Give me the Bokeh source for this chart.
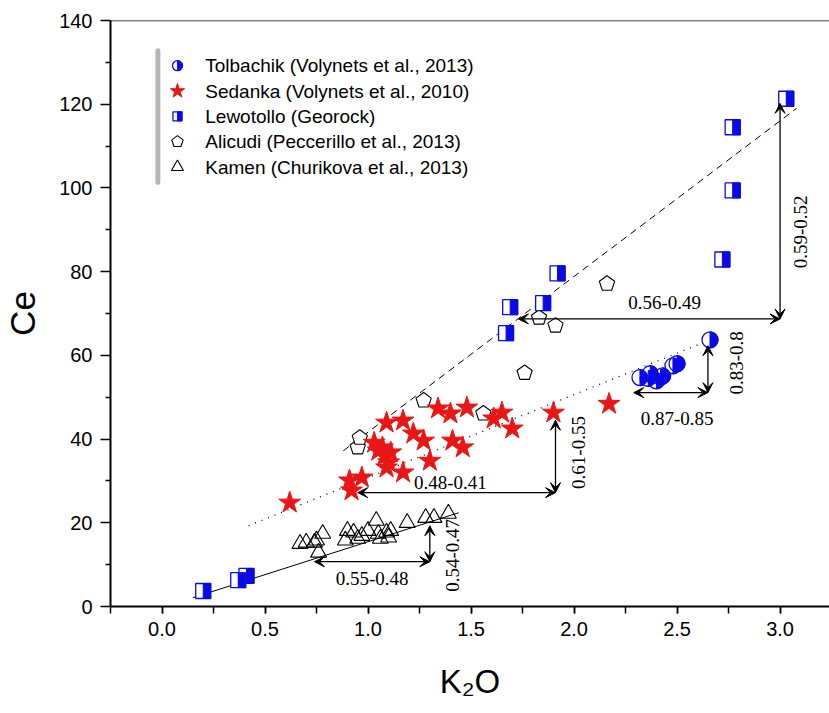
import math
import numpy as np
from bokeh.plotting import figure
from bokeh.models import (ColumnDataSource, Arrow, VeeHead, Span, BoxAnnotation,
                          FixedTicker, CustomJSTickFormatter)
from bokeh.transform import dodge
from bokeh.core.properties import value
from bokeh.embed import file_html
from bokeh.resources import INLINE

# ---------------- data ----------------
tol_k2o = [2.32, 2.36, 2.37, 2.40, 2.42, 2.43, 2.48, 2.50, 2.66]
tol_ce = [54.7, 54.5, 55.6, 53.9, 54.8, 55.1, 57.5, 58.0, 63.7]

sed_k2o = [0.62, 0.91, 0.92, 0.97, 1.03, 1.05, 1.07, 1.08, 1.10, 1.11, 1.09, 1.09,
           1.17, 1.22, 1.27, 1.17, 1.30, 1.34, 1.40, 1.48, 1.41, 1.46, 1.61, 1.65,
           1.70, 1.90, 2.17]
sed_ce = [24.8, 30.1, 27.7, 30.8, 39.1, 37.2, 38.0, 36.0, 34.4, 36.8, 33.2, 43.9,
          44.4, 41.3, 39.6, 32.0, 34.8, 47.3, 46.1, 47.5, 39.6, 38.0, 44.9, 46.3,
          42.5, 46.3, 48.4]

lew_k2o = [0.20, 0.37, 0.41, 1.67, 1.69, 1.85, 1.92, 2.72, 2.77, 2.77, 3.03]
lew_ce = [3.7, 6.3, 7.3, 65.3, 71.5, 72.5, 79.6, 82.9, 99.4, 114.5, 121.3]

ali_k2o = [0.95, 0.96, 1.27, 1.56, 1.76, 1.83, 1.91, 2.16]
ali_ce = [38.0, 40.3, 49.2, 46.1, 55.8, 69.0, 67.1, 77.1]

kam_k2o = [0.67, 0.70, 0.74, 0.75, 0.76, 0.78, 0.89, 0.90, 0.93, 0.95, 0.97, 1.00,
           1.04, 1.05, 1.06, 1.09, 1.10, 1.11, 1.19, 1.28, 1.32, 1.39]
kam_ce = [15.0, 15.3, 15.3, 15.8, 12.9, 17.4, 15.8, 18.1, 17.7, 16.2, 16.9, 18.1,
          20.5, 17.4, 16.2, 17.7, 16.5, 18.1, 20.0, 21.2, 21.2, 22.2]

# trend lines
dash_k2o = [0.88, 3.08]
dash_ce = [37.2, 119.0]
dot_k2o = [0.42, 2.65]
dot_ce = [19.3, 63.5]
solid_k2o = [0.15, 1.44]
solid_ce = [2.1, 22.4]

# ratio brackets (double-headed arrows)
arr_x0 = [0.74, 1.30, 0.95, 1.91, 2.29, 2.65, 1.73, 3.00]
arr_y0 = [10.7, 10.7, 27.2, 27.2, 51.1, 51.1, 68.7, 68.7]
arr_x1 = [1.30, 1.30, 1.91, 1.91, 2.65, 2.65, 3.00, 3.00]
arr_y1 = [10.7, 19.3, 27.2, 44.5, 51.1, 62.3, 68.7, 120.2]

ratio_text = ["0.55-0.48", "0.54-0.47", "0.48-0.41", "0.61-0.55",
              "0.87-0.85", "0.83-0.8", "0.56-0.49", "0.59-0.52"]
ratio_x = [1.02, 1.41, 1.40, 2.02, 2.50, 2.79, 2.44, 3.10]
ratio_y = [6.7, 12.2, 29.6, 36.8, 44.9, 58.2, 72.6, 89.5]
ratio_rot = [0, 1, 0, 1, 0, 1, 0, 1]

legend_labels = ["Tolbachik (Volynets et al., 2013)",
                 "Sedanka (Volynets et al., 2010)",
                 "Lewotollo (Georock)",
                 "Alicudi (Peccerillo et al., 2013)",
                 "Kamen (Churikova et al., 2013)"]

x_ticks = [0.0, 0.5, 1.0, 1.5, 2.0, 2.5, 3.0]
y_ticks = [0, 20, 40, 60, 80, 100, 120, 140]

BLUE = "#0a0ae6"
RED = "#ea1616"

p = figure(width=829, height=713, x_range=(-0.25, 3.24), y_range=(0, 140),
           output_backend="svg", toolbar_location=None,
           min_border_left=110, min_border_right=0, min_border_top=20,
           min_border_bottom=107)
p.outline_line_color = None
p.xgrid.grid_line_color = None
p.ygrid.grid_line_color = None
p.background_fill_color = "white"
p.border_fill_color = "white"

p.add_layout(Span(location=140, dimension="width", line_color="black", line_width=1.5))

# axes
for ax in (p.xaxis[0], p.yaxis[0]):
    ax.axis_line_width = 2
    ax.axis_line_color = "black"
    ax.major_tick_line_width = 1.5
    ax.minor_tick_line_width = 1.5
    ax.major_tick_line_color = "black"
    ax.minor_tick_line_color = "black"
    ax.major_tick_in = 0
    ax.minor_tick_in = 0
    ax.major_label_text_font = "Liberation Sans"
    ax.major_label_text_font_size = "20px"
    ax.major_label_text_color = "black"
    ax.axis_label_text_font = "Liberation Sans"
    ax.axis_label_text_font_style = "normal"
    ax.axis_label_text_color = "black"

p.xaxis.ticker = FixedTicker(ticks=x_ticks,
                             minor_ticks=[-0.25 + 0.25 * i for i in range(15)])
p.xaxis.major_tick_out = 7
p.xaxis.minor_tick_out = 7
p.xaxis.major_label_standoff = 8
p.xaxis.axis_label = "K₂O"
p.xaxis.axis_label_text_font_size = "33px"
p.xaxis.axis_label_standoff = 24
p.xaxis.formatter = CustomJSTickFormatter(code="return tick.toFixed(1)")

p.yaxis.ticker = FixedTicker(ticks=y_ticks, minor_ticks=[10, 30, 50, 70, 90, 110, 130])
p.yaxis.major_tick_out = 10
p.yaxis.minor_tick_out = 5
p.yaxis.major_label_standoff = 8
p.yaxis.axis_label = "Ce"
p.yaxis.axis_label_text_font_size = "35px"
p.yaxis.axis_label_standoff = 14

# trend lines
p.line(dash_k2o, dash_ce, line_color="black", line_width=1, line_dash="7 5")
p.line(dot_k2o, dot_ce, line_color="black", line_width=1.3, line_dash="1 6")
p.line(solid_k2o, solid_ce, line_color="black", line_width=1)

arr_src = ColumnDataSource(dict(x0=arr_x0, y0=arr_y0, x1=arr_x1, y1=arr_y1))
p.add_layout(Arrow(x_start="x0", y_start="y0", x_end="x1", y_end="y1", source=arr_src,
                   line_width=1.3, line_color="black",
                   start=VeeHead(size=10, fill_color="black", line_color="black"),
                   end=VeeHead(size=10, fill_color="black", line_color="black")))

# pixel scale of the frame (used for sizes of half-filled symbols / pentagons)
PX_X = 719 / (3.24 + 0.25)
PX_Y = 586 / 140.0


def draw_tol(xs, ys, r):
    p.scatter(xs, ys, marker="circle", size=2 * r, fill_color="white",
              line_color=BLUE, line_width=1.3)
    p.wedge(xs, ys, radius=r, radius_units="screen", start_angle=-math.pi / 2,
            end_angle=math.pi / 2, fill_color=BLUE, line_color=BLUE)


def draw_lew(xs, ys, s):
    src = ColumnDataSource(dict(x=xs, y=ys))
    p.scatter("x", "y", source=src, marker="square", size=s, fill_color="white",
              line_color=BLUE, line_width=1.3)
    p.rect(dodge("x", s / 4 / PX_X), "y", source=src, width=s / 2, height=s,
           width_units="screen", height_units="screen", fill_color=BLUE,
           line_color=BLUE)


def draw_ali(xs, ys, r):
    ang = np.pi / 2 + np.arange(5) * 2 * np.pi / 5
    px = [list(x + r / PX_X * np.cos(ang)) for x in xs]
    py = [list(y + r / PX_Y * np.sin(ang)) for y in ys]
    p.patches(px, py, fill_color="white", line_color="black", line_width=1.1)


# data markers
draw_ali(ali_k2o, ali_ce, 8)
p.scatter(kam_k2o, kam_ce, marker="triangle", size=16, fill_color=None,
          line_color="black", line_width=1.1)
p.scatter(sed_k2o, sed_ce, marker="star", size=23, fill_color=RED, line_color=RED)
draw_lew(lew_k2o, lew_ce, 15)
draw_tol(tol_k2o, tol_ce, 8)

# ratio labels
rsrc = ColumnDataSource(dict(x=ratio_x, y=ratio_y, t=ratio_text,
                             a=[r * math.pi / 2 for r in ratio_rot]))
p.text("x", "y", text="t", angle="a", source=rsrc, text_font=value("Liberation Serif"),
       text_font_size="19px", text_align="center", text_baseline="middle",
       text_color="black")

# legend (drawn manually to reproduce the half-filled symbols)
LEG_X = 0.075
LEG_TX = 0.21
LEG_TOP = 129.2
LEG_STEP = 6.05
ly = [LEG_TOP - i * LEG_STEP for i in range(5)]
p.add_layout(BoxAnnotation(left=-0.032, right=-0.008, top=133.4, bottom=100.7,
                           fill_color="#b5b5b5", fill_alpha=1, line_color=None,
                           border_radius=3))
draw_tol([LEG_X], [ly[0]], 5)
p.scatter([LEG_X], [ly[1]], marker="star", size=15, fill_color=RED, line_color=RED)
draw_lew([LEG_X], [ly[2]], 9)
draw_ali([LEG_X], [ly[3]], 6)
p.scatter([LEG_X], [ly[4]], marker="triangle", size=12, fill_color=None,
          line_color="black", line_width=1.1)
p.text([LEG_TX] * 5, ly, text=legend_labels, text_font=value("Liberation Sans"),
       text_font_size="19px", text_align="left", text_baseline="middle",
       text_color="black")

open("out.html", "w").write(file_html(p, INLINE))
